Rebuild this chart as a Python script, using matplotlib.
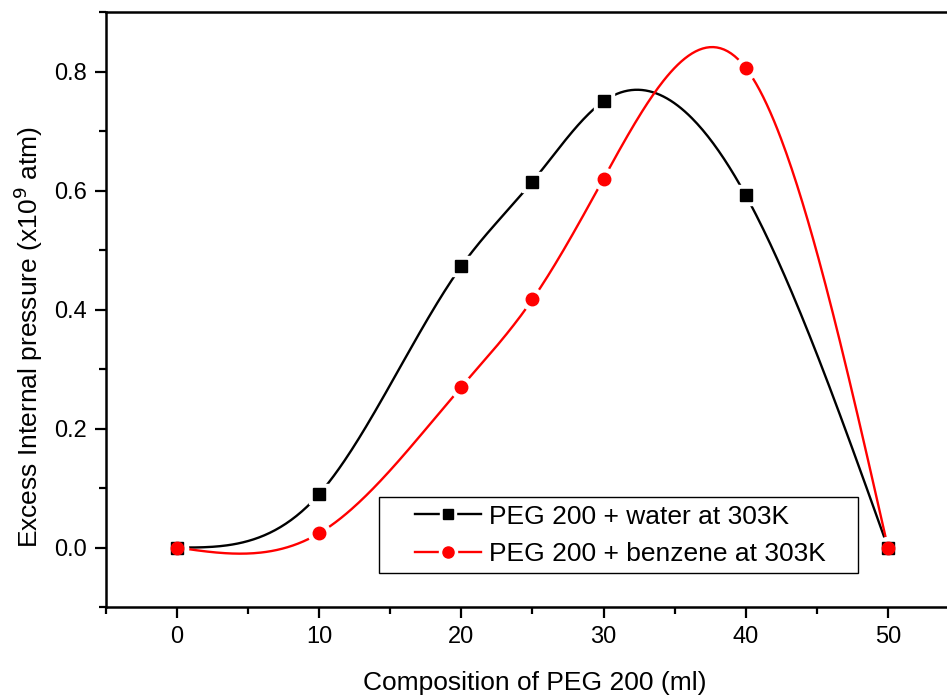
import numpy as np
import matplotlib
matplotlib.use("Agg")
import matplotlib.pyplot as plt
from matplotlib.ticker import MultipleLocator, FormatStrFormatter
from matplotlib.patches import Rectangle

plt.rcParams['font.family'] = ['Liberation Sans', 'DejaVu Sans']

composition = [0, 10, 20, 25, 30, 40, 50]
water = [0.0, 0.09, 0.473, 0.615, 0.750, 0.592, 0.0]
benzene = [0.0, 0.024, 0.270, 0.417, 0.620, 0.806, 0.0]
labels = ["PEG 200 + water at 303K", "PEG 200 + benzene at 303K"]


def natural_spline(x, y, n=400):
    x = np.asarray(x, float)
    y = np.asarray(y, float)
    m = len(x)
    h = np.diff(x)
    A = np.zeros((m, m))
    b = np.zeros(m)
    A[0, 0] = 1
    A[-1, -1] = 1
    for i in range(1, m - 1):
        A[i, i - 1] = h[i - 1]
        A[i, i] = 2 * (h[i - 1] + h[i])
        A[i, i + 1] = h[i]
        b[i] = 3 * ((y[i + 1] - y[i]) / h[i] - (y[i] - y[i - 1]) / h[i - 1])
    c = np.linalg.solve(A, b)
    xs = np.linspace(x[0], x[-1], n)
    ys = np.empty_like(xs)
    for k, xv in enumerate(xs):
        i = min(np.searchsorted(x, xv, side='right') - 1, m - 2)
        dx = xv - x[i]
        bi = (y[i + 1] - y[i]) / h[i] - h[i] * (2 * c[i] + c[i + 1]) / 3
        di = (c[i + 1] - c[i]) / (3 * h[i])
        ys[k] = y[i] + bi * dx + c[i] * dx ** 2 + di * dx ** 3
    return xs, ys


fig = plt.figure(figsize=(9.47, 6.95), dpi=100)
ax = fig.add_axes([0.1119, 0.1266, 0.9008, 0.8561])

series = [(water, 'black', 's', 8), (benzene, 'red', 'o', 9)]
for vals, col, mk, ms in series:
    xs, ys = natural_spline(composition, vals)
    ax.plot(xs, ys, color=col, lw=1.7, zorder=2)
for vals, col, mk, ms in series:
    ax.plot(composition, vals, linestyle='none', marker=mk, ms=ms + 7,
            color='white', zorder=3)
z = 4
for vals, col, mk, ms in series:
    ax.plot(composition, vals, linestyle='none', marker=mk, ms=ms,
            color=col, zorder=z)
    z += 1

handles = []
for vals, col, mk, ms in series:
    ln = plt.Line2D([], [], color=col, lw=1.7)
    halo = plt.Line2D([], [], color='white', marker=mk, ms=ms + 4,
                      linestyle='none')
    dot = plt.Line2D([], [], color=col, marker=mk, ms=ms - 1,
                     linestyle='none')
    handles.append((ln, halo, dot))

leg = ax.legend(handles, labels, loc='center left',
                bbox_to_anchor=(0.3623, 0.1202), fontsize=19,
                frameon=False, handlelength=2.5, handletextpad=0.3,
                borderpad=0, labelspacing=0.53, borderaxespad=0)
ax.add_patch(Rectangle((0.320, 0.0571), 0.5616, 0.1277,
                       transform=ax.transAxes, fill=False,
                       edgecolor='black', lw=1.0, zorder=6))

ax.set_xlim(-5, 55)
ax.set_ylim(-0.1, 0.9)
ax.xaxis.set_major_locator(MultipleLocator(10))
ax.xaxis.set_minor_locator(MultipleLocator(5))
ax.yaxis.set_major_locator(MultipleLocator(0.2))
ax.yaxis.set_minor_locator(MultipleLocator(0.1))
ax.yaxis.set_major_formatter(FormatStrFormatter('%.1f'))
ax.tick_params(which='major', direction='out', length=8, width=1.6,
               labelsize=17, pad=6)
ax.tick_params(which='minor', direction='out', length=5, width=1.6)
ax.spines['right'].set_visible(False)
for s in ['left', 'bottom', 'top']:
    ax.spines[s].set_linewidth(1.8)

ax.set_xlabel("Composition of PEG 200 (ml)", fontsize=19)
ax.set_ylabel(r"Excess Internal pressure (x10$^9$ atm)", fontsize=19)
ax.xaxis.set_label_coords(0.503, -0.128)
ax.yaxis.set_label_coords(-0.0914, 0.454)
ax.xaxis.label.set_va('center')
ax.yaxis.label.set_va('center')

fig.savefig("out.png", dpi=100)
